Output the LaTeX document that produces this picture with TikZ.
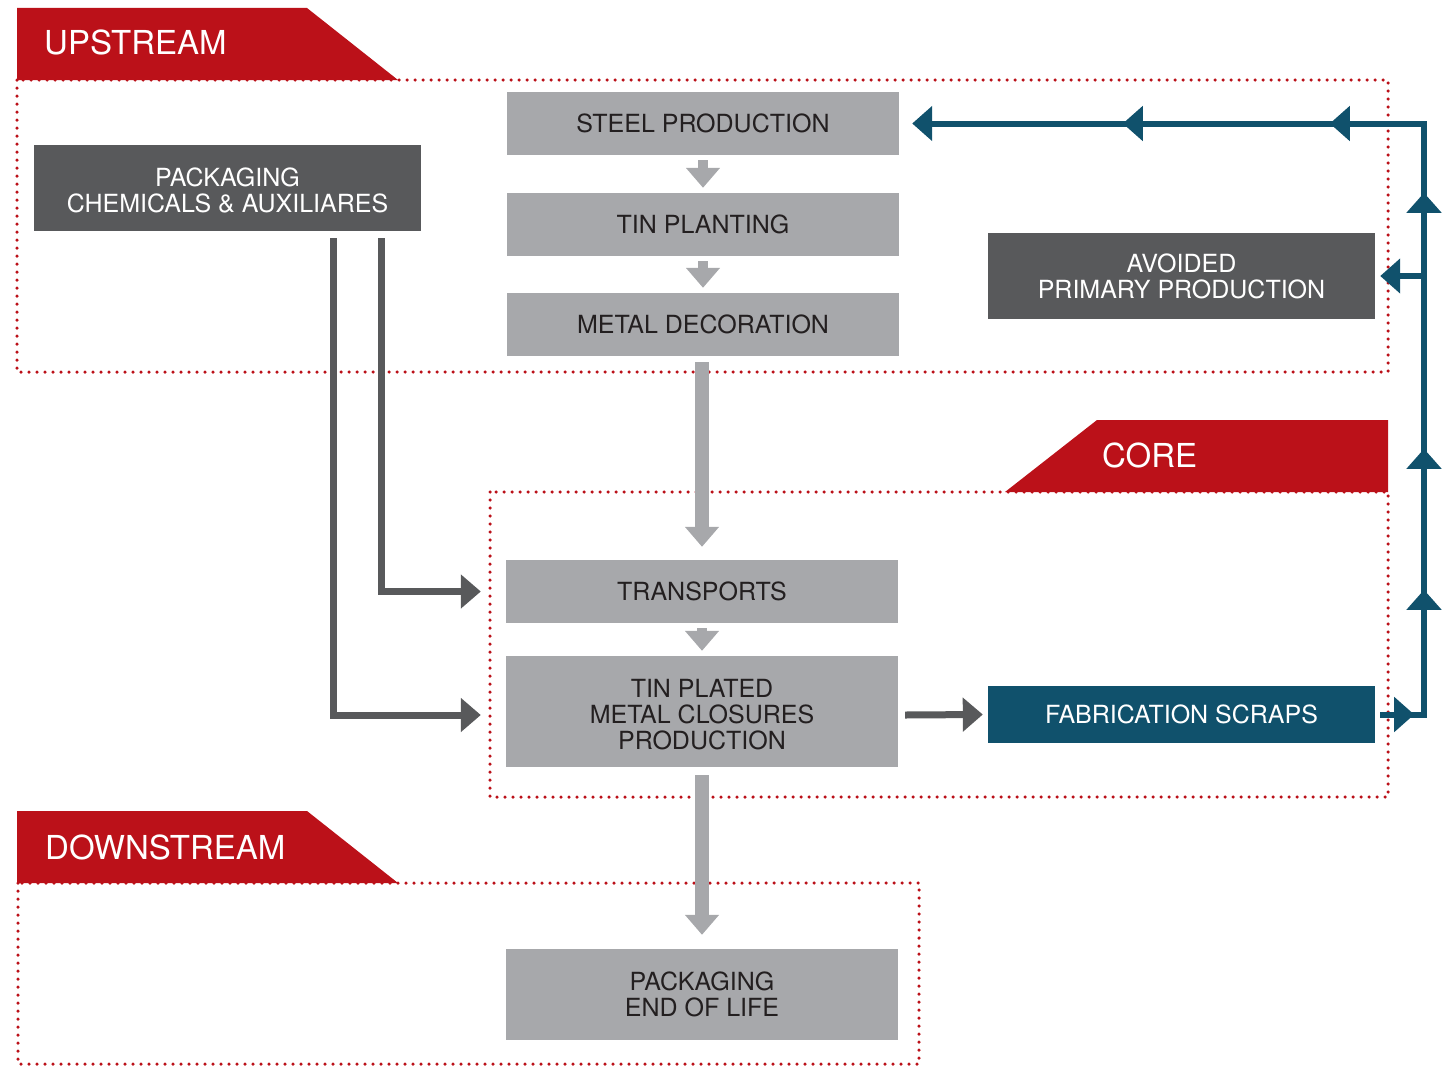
\documentclass[tikz,border=0pt]{standalone}
\usepackage{fontspec}
\setmainfont{TeX Gyre Heros}
\usetikzlibrary{arrows.meta,decorations.markings}
\definecolor{stagegray}{HTML}{A7A8AB}
\definecolor{inputgray}{HTML}{58595B}
\definecolor{scrapblue}{HTML}{10516C}
\definecolor{zonered}{HTML}{BB1119}
\definecolor{textdark}{HTML}{231F20}
\tikzset{
  boxtext/.style={font=\fontsize{25}{26}\selectfont, align=center, inner sep=0pt},
  stage/.style={boxtext, fill=stagegray, text=textdark, minimum width=392pt, minimum height=63pt},
  inputbox/.style={boxtext, fill=inputgray, text=white, minimum width=387pt, minimum height=86pt},
  scrapbox/.style={boxtext, fill=scrapblue, text=white, minimum width=387pt, minimum height=57pt},
  banner/.style={font=\fontsize{33}{36}\selectfont, text=white, inner sep=0pt, anchor=base west},
  zone/.style={draw=zonered, line width=3.5pt, line cap=round, dash pattern=on 0pt off 8pt},
  flow/.style={draw=stagegray, line width=14pt, -{Triangle[width=33pt,length=20pt]}},
  smallflow/.style={draw=stagegray, line width=10pt, -{Triangle[width=33pt,length=20pt]}},
  feed/.style={draw=inputgray, line width=7pt, -{Triangle[width=33pt,length=20pt]}},
  recycle/.style={color=scrapblue, line width=6pt, -{Triangle[width=34pt,length=20pt]}},
}

\begin{document}
\begin{tikzpicture}[x=1pt,y=-1pt]
\useasboundingbox (0,0) rectangle (1447,1065);

% zones
\draw[zone] (17,80) rectangle (1388,372);
\draw[zone] (490,492) rectangle (1388,797);
\draw[zone] (18,883) rectangle (919,1064);

% banners
\fill[zonered] (17,8) -- (307,8) -- (398,80) -- (17,80) -- cycle;
\node[banner] (upstream) at (44,55) {UPSTREAM};
\fill[zonered] (1005,492) -- (1097,420) -- (1388,420) -- (1388,492) -- cycle;
\node[banner] (core) at (1102,467) {CORE};
\fill[zonered] (17,811) -- (307,811) -- (398,883) -- (17,883) -- cycle;
\node[banner] (downstream) at (45,859) {DOWNSTREAM};

% boxes
\node[stage] (steel) at (703,123.5) {STEEL PRODUCTION};
\node[stage] (tin) at (703,224.5) {TIN PLANTING};
\node[stage] (deco) at (703,324.5) {METAL DECORATION};
\node[inputbox] (chem) at (227.5,188) {};
\node[boxtext, text=white] at ([yshift=-2pt]chem.center) {PACKAGING\\CHEMICALS \& AUXILIARES};
\node[inputbox] (avoided) at (1181.5,276) {AVOIDED\\PRIMARY PRODUCTION};
\node[stage] (transp) at (702,591.5) {TRANSPORTS};
\node[stage, minimum height=111pt] (closures) at (702,711.5) {};
\node[boxtext, text=textdark] at ([yshift=-3.5pt]closures.center) {TIN PLATED\\METAL CLOSURES\\PRODUCTION};
\node[scrapbox] (scraps) at (1181.5,714.5) {FABRICATION SCRAPS};
\node[stage, minimum height=91pt] (eol) at (702,994.5) {PACKAGING\\END OF LIFE};

% main flow
\draw[smallflow] ([yshift=-5pt]steel.south) -- ([yshift=5pt]tin.north);
\draw[smallflow] ([yshift=-5pt]tin.south) -- ([yshift=5pt]deco.north);
\draw[flow] ([yshift=-6pt]deco.south -| transp.north) -- ([yshift=13pt]transp.north);
\draw[smallflow] ([yshift=-5pt]transp.south) -- ([yshift=5pt]closures.north);
\draw[flow] ([yshift=-8pt]closures.south) -- ([yshift=14pt]eol.north);

% inputs
\draw[feed] ([xshift=153.5pt,yshift=-7pt]chem.south) |- ([xshift=-25pt]transp.west);
\draw[feed] ([xshift=105.5pt,yshift=-7pt]chem.south) |- ([xshift=-25pt,yshift=-3.5pt]closures.west);
\draw[feed] ([xshift=7pt,yshift=-3.5pt]closures.east) -- ([xshift=-5pt]scraps.west);

% recycling loop
\coordinate (looptop) at (1424,123.5);
\draw[recycle, postaction={decorate}, decoration={markings,
    mark=at position 34pt with {\arrow{Triangle[width=34pt,length=20pt]}},
    mark=at position 168.5pt with {\arrow{Triangle[width=34pt,length=20pt]}},
    mark=at position 309.5pt with {\arrow{Triangle[width=34pt,length=20pt]}},
    mark=at position 565.5pt with {\arrow{Triangle[width=34pt,length=20pt]}},
    mark=at position 729pt with {\arrow{Triangle[width=34pt,length=20pt]}},
    mark=at position 936pt with {\arrow{Triangle[width=34pt,length=20pt]}}}]
  ([xshift=5pt]scraps.east) -- (scraps.east -| looptop) -- (looptop) -- ([xshift=13pt]steel.east);
\draw[recycle] (looptop |- avoided.east) -- ([xshift=5pt]avoided.east);
\end{tikzpicture}
\end{document}
